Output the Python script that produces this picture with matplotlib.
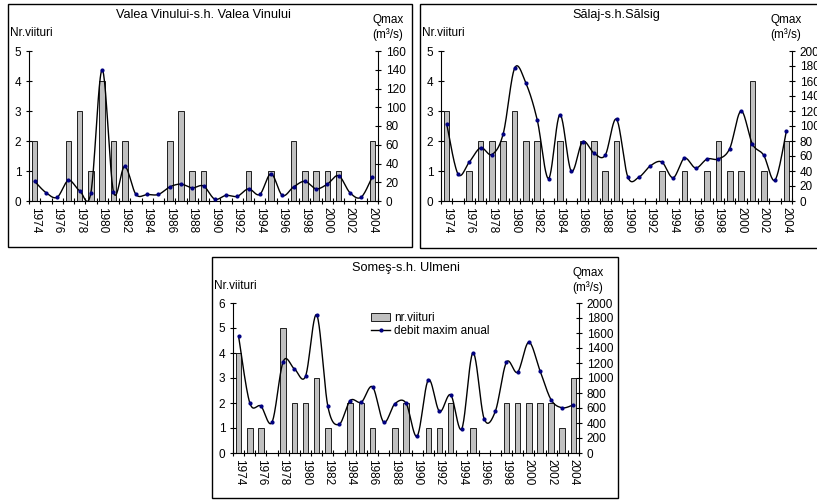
import numpy as np
import matplotlib
matplotlib.use("Agg")
import matplotlib.pyplot as plt
from matplotlib.patches import Rectangle, Patch
from matplotlib.lines import Line2D

plt.rcParams['font.family'] = ['Liberation Sans', 'DejaVu Sans']
plt.rcParams['font.size'] = 8.5

years = np.arange(1974, 2005)

# Valea Vinului - s.h. Valea Vinului
vv_nr = [2, 0, 0, 2, 3, 1, 4, 2, 2, 0, 0, 0, 2, 3, 1, 1,
         0, 0, 0, 1, 0, 1, 0, 2, 1, 1, 1, 1, 0, 0, 2]
vv_q = [21, 9, 4, 22, 11, 9, 140, 10, 37, 7, 7, 7, 15, 18, 14, 16,
        2, 6, 5, 13, 7, 29, 6, 15, 21, 13, 18, 27, 9, 4, 26]

# Salaj - s.h. Salsig
sa_nr = [3, 0, 1, 2, 2, 2, 3, 2, 2, 0, 2, 0, 2, 2, 1, 2,
         0, 0, 0, 1, 0, 1, 0, 1, 2, 1, 1, 4, 1, 0, 2]
sa_q = [103, 36, 52, 71, 62, 90, 177, 157, 108, 30, 115, 40, 79, 64, 61, 109,
        32, 32, 47, 52, 31, 57, 44, 56, 56, 70, 120, 76, 61, 28, 93]

# Somes - s.h. Ulmeni
so_nr = [4, 1, 1, 0, 5, 2, 2, 3, 1, 0, 2, 2, 1, 0, 1, 2,
         0, 1, 1, 2, 0, 1, 0, 0, 2, 2, 2, 2, 2, 1, 3]
so_q = [1556, 670, 625, 412, 1220, 1122, 1024, 1840, 621, 381, 700, 678, 882, 412, 656, 665,
        226, 975, 554, 776, 324, 1335, 457, 554, 1210, 1078, 1477, 1100, 710, 603, 643]

W, H = 817, 500


def fx(x):
    return x / W


def fy(y):
    return 1 - y / H


def smooth(x, y, n=24):
    # Bezier segments with Catmull-Rom control points (Excel-style smoothed line)
    p = np.column_stack([x, y]).astype(float)
    out = []
    for i in range(len(p) - 1):
        p0 = p[i - 1] if i > 0 else p[i]
        p1, p2 = p[i], p[i + 1]
        p3 = p[i + 2] if i + 2 < len(p) else p[i + 1]
        c1 = p1 + (p2 - p0) / 6
        c2 = p2 - (p3 - p1) / 6
        t = np.linspace(0, 1, n)[:, None]
        seg = ((1 - t) ** 3 * p1 + 3 * (1 - t) ** 2 * t * c1
               + 3 * (1 - t) * t ** 2 * c2 + t ** 3 * p2)
        out.append(seg if i == 0 else seg[1:])
    s = np.vstack(out)
    return s[:, 0], s[:, 1]


panels = [
    dict(title="Valea Vinului-s.h. Valea Vinului", nr=vv_nr, q=vv_q, nmax=5, qmax=160, qstep=20,
         box=(8, 4, 412, 247), ax=(29, 51, 378, 201), qx=388, legend=False),
    dict(title="Sălaj-s.h.Sălsig", nr=sa_nr, q=sa_q, nmax=5, qmax=200, qstep=20,
         box=(420, 4, 830, 248), ax=(441, 51, 792, 201), qx=786, legend=False),
    dict(title="Someş-s.h. Ulmeni", nr=so_nr, q=so_q, nmax=6, qmax=2000, qstep=200,
         box=(212, 257, 618, 498), ax=(233, 303, 579, 453), qx=588, legend=True),
]

fig = plt.figure(figsize=(W / 100, H / 100), dpi=100)

for p in panels:
    x0, y0, x1, y1 = p["box"]
    fig.patches.append(Rectangle((fx(x0), fy(y1)), fx(x1 - x0), (y1 - y0) / H,
                                 transform=fig.transFigure, fill=False,
                                 edgecolor="black", lw=1.0, zorder=0))

    a0, b0, a1, b1 = p["ax"]
    ax = fig.add_axes([fx(a0), fy(b1), fx(a1 - a0), (b1 - b0) / H])
    ax2 = ax.twinx()

    ax.bar(years, p["nr"], width=0.5, color="#c0c0c0",
           edgecolor="black", linewidth=0.6)
    sx, sy = smooth(years, p["q"])
    ax2.plot(sx, sy, color="black", lw=1.0)
    ax2.plot(years, p["q"], ls="none", marker="o", ms=2.0,
             color="#000080", mec="#000080")

    ax.set_xlim(1973.5, 2004.5)
    ax.set_ylim(0, p["nmax"])
    ax2.set_ylim(0, p["qmax"])
    ax.set_yticks(range(0, p["nmax"] + 1))
    ax2.set_yticks(range(0, p["qmax"] + 1, p["qstep"]))

    ax.set_xticks(years[::2])
    ax.set_xticklabels([str(y) for y in years[::2]], rotation=-90)
    ax.set_xticks(np.arange(1973.5, 2005), minor=True)
    ax.tick_params(axis="x", which="major", length=0, pad=4)
    ax.tick_params(axis="x", which="minor", direction="inout", length=5, width=0.8)
    ax.tick_params(axis="y", direction="inout", length=5, width=0.8, pad=3)
    ax2.tick_params(axis="y", direction="inout", length=5, width=0.8, pad=3)

    for a in (ax, ax2):
        a.spines["top"].set_visible(False)
        for s in a.spines.values():
            s.set_linewidth(0.8)
        a.patch.set_visible(False)
    ax.spines["right"].set_visible(False)
    ax2.spines["left"].set_visible(False)
    ax2.spines["bottom"].set_visible(False)

    fig.text(fx((a0 + a1) / 2), fy(y0 + 11), p["title"], ha="center", va="center",
             fontsize=9.2)
    fig.text(fx(x0 + 2), fy(y0 + 29), "Nr.viituri", ha="left", va="center")
    fig.text(fx(p["qx"]), fy(y0 + 16), "Qmax", ha="center", va="center")
    fig.text(fx(p["qx"]), fy(y0 + 31), "(m³/s)", ha="center", va="center")

    if p["legend"]:
        handles = [Patch(facecolor="#c0c0c0", edgecolor="black", lw=0.6),
                   Line2D([], [], color="black", lw=1.0, marker="o", ms=2.0,
                          mfc="#000080", mec="#000080")]
        fig.legend(handles, ["nr.viituri", "debit maxim anual"],
                   loc="upper left", bbox_to_anchor=(fx(363), fy(304)),
                   frameon=False, handlelength=1.6, handleheight=0.7,
                   handletextpad=0.3, labelspacing=0.05, borderpad=0.2)

fig.savefig("out.png", dpi=100)
